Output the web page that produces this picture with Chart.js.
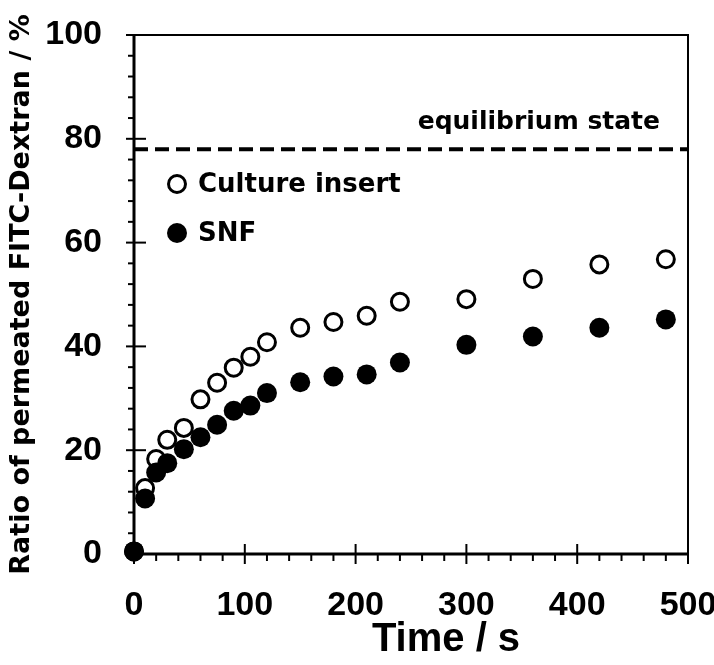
<!DOCTYPE html>
<html>
<head>
<meta charset="utf-8">
<script src="https://cdn.jsdelivr.net/npm/chart.js@4.4.0/dist/chart.umd.min.js"></script>
<style>
  html, body { margin: 0; padding: 0; background: #fff; }
  #wrap { width: 714px; height: 665px; }
</style>
</head>
<body>
<div id="wrap"><canvas id="chart-permeation"></canvas></div>
<script>
// time points (s) and permeated ratio (%)
var times = [0, 10, 20, 30, 45, 60, 75, 90, 105, 120, 150, 180, 210, 240, 300, 360, 420, 480];
var cultureInsert = [0.5, 12.7, 18.3, 22.0, 24.3, 29.8, 33.0, 35.9, 38.0, 40.8, 43.6, 44.7, 45.9, 48.6, 49.1, 53.0, 55.8, 56.8];
var snf = [0.5, 10.7, 15.7, 17.5, 20.2, 22.5, 24.9, 27.6, 28.6, 31.0, 33.1, 34.2, 34.6, 36.9, 40.3, 41.9, 43.6, 45.2];
var equilibriumX = [0, 500];
var equilibriumY = [78, 78];
var seriesNames = ["Culture insert", "SNF"];
var equilibriumLabel = "equilibrium state";
var xTitle = "Time / s";

var ARIAL = "'Liberation Sans', Arial, sans-serif";
var WIDE = "'DejaVu Sans', Verdana, sans-serif";

function toPoints(xs, ys) {
    return xs.map(function (t, i) { return { x: t, y: ys[i] }; });
}

// frame, axis lines and major/minor ticks, drawn under the points
var axesPlugin = {
    id: 'axes',
    beforeDatasetsDraw: function (chart) {
        var ctx = chart.ctx, a = chart.chartArea;
        var xs = chart.scales.x, ys = chart.scales.y;
        ctx.save();
        ctx.strokeStyle = '#000';
        ctx.lineWidth = 2;
        ctx.beginPath();
        ctx.moveTo(a.left - 8, a.top);
        ctx.lineTo(a.right, a.top);
        ctx.lineTo(a.right, a.bottom);
        ctx.stroke();
        ctx.lineWidth = 3;
        ctx.beginPath();
        ctx.moveTo(a.left, a.top);
        ctx.lineTo(a.left, a.bottom);
        ctx.lineTo(a.right, a.bottom);
        ctx.stroke();
        ctx.lineWidth = 2;
        for (var v = 0; v <= 500; v += 20) {
            var px = xs.getPixelForValue(v);
            var major = v % 100 === 0;
            ctx.beginPath();
            ctx.moveTo(px, a.bottom - (major ? 10 : 0));
            ctx.lineTo(px, a.bottom + (major ? 10 : 7));
            ctx.stroke();
        }
        for (var w = 0; w <= 100; w += 4) {
            var py = ys.getPixelForValue(w);
            var maj = w % 20 === 0;
            ctx.beginPath();
            ctx.moveTo(a.left - (maj ? 8 : 6), py);
            ctx.lineTo(a.left + (maj ? 12 : 0), py);
            ctx.stroke();
        }
        ctx.restore();
    },
    afterDraw: function (chart) {
        var ctx = chart.ctx, a = chart.chartArea;
        var ys = chart.scales.y;
        ctx.save();
        ctx.fillStyle = '#000';
        ctx.textBaseline = 'middle';
        // x axis title (sits right of the plot centre in the original)
        ctx.font = "bold 40px " + ARIAL;
        ctx.textAlign = 'center';
        ctx.fillText(xTitle, (a.left + a.right) / 2 + 35, 640);
        // equilibrium label
        ctx.font = "bold 25px " + WIDE;
        ctx.textAlign = 'right';
        ctx.fillText(equilibriumLabel, a.right - 28, ys.getPixelForValue(equilibriumY[0]) - 27);
        // legend
        ctx.font = "bold 26px " + WIDE;
        ctx.textAlign = 'left';
        var lx = a.left + 43, ly = a.top + 149;
        ctx.lineWidth = 3;
        ctx.strokeStyle = '#000';
        ctx.fillStyle = '#fff';
        ctx.beginPath(); ctx.arc(lx, ly, 8.5, 0, Math.PI * 2); ctx.fill(); ctx.stroke();
        ctx.fillStyle = '#000';
        ctx.beginPath(); ctx.arc(lx, ly + 49, 10, 0, Math.PI * 2); ctx.fill();
        ctx.fillText(seriesNames[0], lx + 21, ly + 1);
        ctx.fillText(seriesNames[1], lx + 21, ly + 50);
        ctx.restore();
    }
};

var chart = new Chart(document.getElementById('chart-permeation'), {
    type: 'scatter',
    data: {
        datasets: [{
            label: 'equilibrium',
            type: 'line',
            data: toPoints(equilibriumX, equilibriumY),
            borderColor: '#000',
            borderWidth: 4,
            borderDash: [14, 7],
            pointRadius: 0,
            order: 3
        }, {
            label: seriesNames[1],
            data: toPoints(times, snf),
            pointRadius: 10,
            pointBackgroundColor: '#000',
            pointBorderColor: '#000',
            pointBorderWidth: 0,
            order: 1
        }, {
            label: seriesNames[0],
            data: toPoints(times, cultureInsert),
            pointRadius: 8.5,
            pointBackgroundColor: '#fff',
            pointBorderColor: '#000',
            pointBorderWidth: 3,
            order: 2
        }]
    },
    options: {
        responsive: true,
        maintainAspectRatio: false,
        animation: false,
        clip: false,
        layout: { padding: { top: 35, right: 26, left: 0, bottom: 0 } },
        plugins: { legend: { display: false }, tooltip: { enabled: false } },
        scales: {
            x: {
                type: 'linear', min: 0, max: 500,
                grid: { display: false },
                border: { display: false },
                ticks: { stepSize: 100, color: '#000', padding: 23, font: { family: ARIAL, size: 34, weight: 'bold' } },
                afterFit: function (s) { s.height = 111; s.paddingLeft = 0; s.paddingRight = 0; }
            },
            y: {
                min: 0, max: 100,
                grid: { display: false },
                border: { display: false },
                ticks: { stepSize: 20, color: '#000', padding: 24, font: { family: ARIAL, size: 34, weight: 'bold' } },
                title: { display: true, text: 'Ratio of permeated FITC-Dextran / %', color: '#000', padding: { top: 6, bottom: 0 }, font: { family: WIDE, size: 27, weight: 'bold' } },
                afterFit: function (s) { s.width = 134; s.paddingTop = 0; s.paddingBottom = 0; }
            }
        }
    },
    plugins: [axesPlugin]
});
</script>
</body>
</html>
